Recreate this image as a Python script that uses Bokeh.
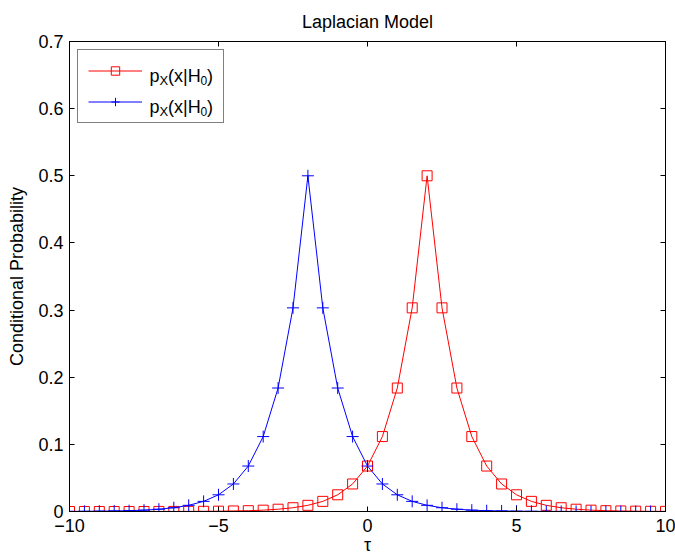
from bokeh.plotting import figure
from bokeh.models import Range1d, FixedTicker, LinearAxis, Legend, LegendItem, Label
from bokeh.core.properties import value
from bokeh.embed import file_html
from bokeh.resources import INLINE

# ---- data ----
tau = [-10.0, -9.5, -9.0, -8.5, -8.0, -7.5, -7.0, -6.5, -6.0, -5.5,
       -5.0, -4.5, -4.0, -3.5, -3.0, -2.5, -2.0, -1.5, -1.0, -0.5,
       0.0, 0.5, 1.0, 1.5, 2.0, 2.5, 3.0, 3.5, 4.0, 4.5,
       5.0, 5.5, 6.0, 6.5, 7.0, 7.5, 8.0, 8.5, 9.0, 9.5, 10.0]

# red curve (squares), peak at +2
p_red = [0.0000, 0.0000, 0.0000, 0.0000, 0.0000, 0.0000, 0.0001, 0.0001, 0.0002, 0.0003,
         0.0005, 0.0008, 0.0012, 0.0020, 0.0034, 0.0056, 0.0092, 0.0151, 0.0249, 0.0410,
         0.0677, 0.1116, 0.1839, 0.3033, 0.5000, 0.3033, 0.1839, 0.1116, 0.0677, 0.0410,
         0.0249, 0.0151, 0.0092, 0.0056, 0.0034, 0.0020, 0.0012, 0.0008, 0.0005, 0.0003, 0.0002]

# blue curve (crosses), peak at -2
p_blue = [0.0002, 0.0003, 0.0005, 0.0008, 0.0012, 0.0020, 0.0034, 0.0056, 0.0092, 0.0151,
          0.0249, 0.0410, 0.0677, 0.1116, 0.1839, 0.3033, 0.5000, 0.3033, 0.1839, 0.1116,
          0.0677, 0.0410, 0.0249, 0.0151, 0.0092, 0.0056, 0.0034, 0.0020, 0.0012, 0.0008,
          0.0005, 0.0003, 0.0002, 0.0001, 0.0001, 0.0000, 0.0000, 0.0000, 0.0000, 0.0000, 0.0000]

x_ticks = [-10, -5, 0, 5, 10]
x_tick_labels = ["\u221210", "\u22125", "0", "5", "10"]
y_ticks = [0, 0.1, 0.2, 0.3, 0.4, 0.5, 0.6, 0.7]
y_tick_labels = ["0", "0.1", "0.2", "0.3", "0.4", "0.5", "0.6", "0.7"]

title_text = "Laplacian Model"
x_label = "\u03c4"
y_label = "Conditional Probability"
# legend text pieces: (text, is_subscript)
legend_pieces = [("p", False), ("X", True), ("(x|H", False), ("0", True), (")", False)]

FONT = "Liberation Sans"
FS = "18px"

X0, X1, Y0, Y1 = -10, 10, 0, 0.7
FRAME_W, FRAME_H = 596, 471

p = figure(width=675, height=557, output_backend="svg", toolbar_location=None,
           x_range=Range1d(X0, X1), y_range=Range1d(Y0, Y1),
           min_border_left=69, min_border_right=10, min_border_top=41, min_border_bottom=45,
           title=title_text, x_axis_label=x_label, y_axis_label=y_label)

p.background_fill_color = "white"
p.border_fill_color = "white"
p.outline_line_color = "black"
p.outline_line_width = 1
p.xgrid.visible = False
p.ygrid.visible = False

p.title.align = "center"
p.title.vertical_align = "top"
p.title.standoff = 16
p.title.text_font = FONT
p.title.text_font_size = FS
p.title.text_font_style = "normal"
p.title.text_color = "black"

def style_axis(ax, ticks, labels, show_labels=True):
    ax.ticker = FixedTicker(ticks=ticks)
    ax.major_tick_in = 5
    ax.major_tick_out = 0
    ax.minor_tick_line_color = None
    ax.axis_line_color = "black"
    ax.major_tick_line_color = "black"
    ax.major_label_text_font = FONT
    ax.major_label_text_color = "black"
    if show_labels:
        ax.major_label_overrides = {t: l for t, l in zip(ticks, labels)}
        ax.major_label_text_font_size = FS
    else:
        ax.major_label_overrides = {t: "" for t in ticks}
        ax.major_label_text_font_size = "1px"
        ax.major_label_standoff = 0

style_axis(p.xaxis[0], x_ticks, x_tick_labels)
style_axis(p.yaxis[0], y_ticks, y_tick_labels)
p.xaxis[0].major_label_standoff = 7
p.yaxis[0].major_label_standoff = 6
for ax in (p.xaxis[0], p.yaxis[0]):
    ax.axis_label_text_font = FONT
    ax.axis_label_text_font_size = FS
    ax.axis_label_text_font_style = "normal"
    ax.axis_label_text_color = "black"
p.xaxis[0].axis_label_standoff = 0
p.yaxis[0].axis_label_standoff = 8

top_ax = LinearAxis()
style_axis(top_ax, x_ticks, x_tick_labels, show_labels=False)
p.add_layout(top_ax, "above")
right_ax = LinearAxis()
style_axis(right_ax, y_ticks, y_tick_labels, show_labels=False)
p.add_layout(right_ax, "right")

# ---- curves ----
r_line = p.line(tau, p_red, line_color="#ff0000", line_width=1)
r_mark = p.scatter(tau, p_red, marker="square", size=10, fill_color=None,
                   line_color="#ff0000", line_width=1)
b_line = p.line(tau, p_blue, line_color="#0000ff", line_width=1)
b_mark = p.scatter(tau, p_blue, marker="cross", size=12, line_color="#0000ff", line_width=1)

legend = Legend(items=[LegendItem(label=value(" "), renderers=[r_line, r_mark]),
                       LegendItem(label=value(" "), renderers=[b_line, b_mark])],
                location="top_left", margin=8, padding=10, spacing=10,
                glyph_width=54, glyph_height=21, label_width=63, label_height=21,
                label_standoff=8, border_line_color="black", border_line_width=1,
                background_fill_alpha=0,
                label_text_font=FONT, label_text_font_size=FS)
p.add_layout(legend)

# helpers: pixel offsets (relative to the frame's bottom-left) to data coordinates
def px_to_x(px):
    return X0 + (X1 - X0) * px / FRAME_W

def px_to_y(py_from_bottom):
    return Y0 + (Y1 - Y0) * py_from_bottom / FRAME_H

# legend label text with subscripts
piece_dx = [0, 10, 18.5, 51, 57.5]
piece_fs = ["18px", "13px", "18px", "12px", "18px"]
row_base = [436, 405]
for yb in row_base:
    for (txt, sub), dx, fs in zip(legend_pieces, piece_dx, piece_fs):
        p.add_layout(Label(x=px_to_x(80 + dx), y=px_to_y(yb - (4 if sub else 0)),
                           text=txt, text_font=FONT, text_font_size=fs,
                           text_baseline="alphabetic", text_align="left", text_color="black"))

open("out.html", "w").write(file_html(p, INLINE))
